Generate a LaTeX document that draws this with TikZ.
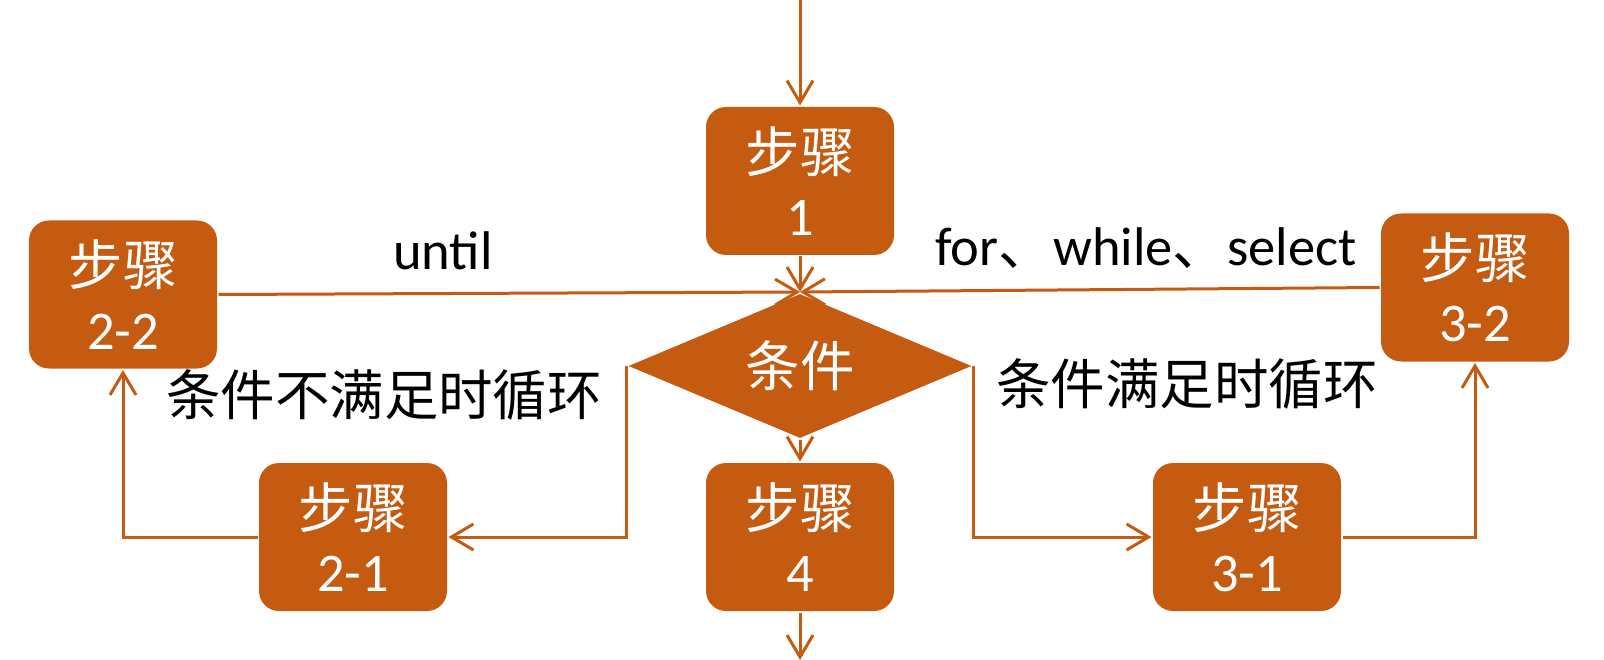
\documentclass[tikz,border=0pt]{standalone}
\usepackage{fontspec}
\setmainfont{Carlito}
\newfontfamily\cjk{Noto Sans CJK SC}
\usetikzlibrary{arrows.meta,positioning,shapes.geometric}
\definecolor{rust}{RGB}{197,90,17}
\newcommand\bigtxt{\fontsize{31pt}{36pt}\selectfont}
\tikzset{
  every picture/.style={line width=0.6mm},
  stepbox/.style={rectangle, rounded corners=4mm, fill=rust, draw=none, text=white,
    minimum width=37.6mm, minimum height=29.6mm, inner sep=0pt, align=center, font=\bigtxt},
  test/.style={diamond, fill=rust, draw=none, text=white, aspect=2.37, inner sep=0pt,
    minimum width=68.8mm, minimum height=29mm, font=\bigtxt\cjk},
  flow/.style={-{Straight Barb[length=4.4mm,width=5.2mm,line width=0.6mm]}, draw=rust, line width=0.6mm},
  lbl/.style={font=\bigtxt, text=black, inner sep=0pt},
}

\begin{document}
\begin{tikzpicture}
  \useasboundingbox (0,0) rectangle (320.8mm,-132mm);
  % main line
  \coordinate (in) at (160mm,0);
  \node[stepbox] (s1) at (160mm,-36.2mm) {{\cjk 步骤}\\1};
  \node[test] (c) at (160mm,-73.2mm) {条件};
  \node[stepbox] (s4) at (160mm,-107.4mm) {{\cjk 步骤}\\4};
  \coordinate (out) at (160mm,-132mm);
  % left loop
  \node[stepbox] (s21) at (70.6mm,-107.4mm) {{\cjk 步骤}\\2-1};
  \node[stepbox] (s22) at (24.6mm,-58.9mm) {{\cjk 步骤}\\2-2};
  % right loop
  \node[stepbox] (s31) at (249.4mm,-107.4mm) {{\cjk 步骤}\\3-1};
  \node[stepbox] (s32) at (295mm,-57.5mm) {{\cjk 步骤}\\3-2};

  \draw[flow] (in) -- (s1);
  \draw[flow] (s1) -- (c.north);
  \draw[flow] (c) -- (s4);
  \draw[flow] (s4) -- (out);
  \draw[flow] (c.west) |- (s21);
  \draw[flow] (s21) -| (s22);
  \draw[flow] (s22.east) -- (c.north);
  \draw[flow] (c.east) |- (s31);
  \draw[flow] (s31) -| (s32);
  \draw[flow] (s32.west) -- (c.north);

  \node[lbl] (l1) at (88.6mm,-50.2mm) {until};
  \node[lbl] (l2) at (229.2mm,-49.6mm) {for{\cjk 、}while{\cjk 、}select};
  \node[lbl, font=\bigtxt\cjk] (l3) at (76.8mm,-79mm) {条件不满足时循环};
  \node[lbl, font=\bigtxt\cjk] (l4) at (237.4mm,-76.8mm) {条件满足时循环};
\end{tikzpicture}
\end{document}
